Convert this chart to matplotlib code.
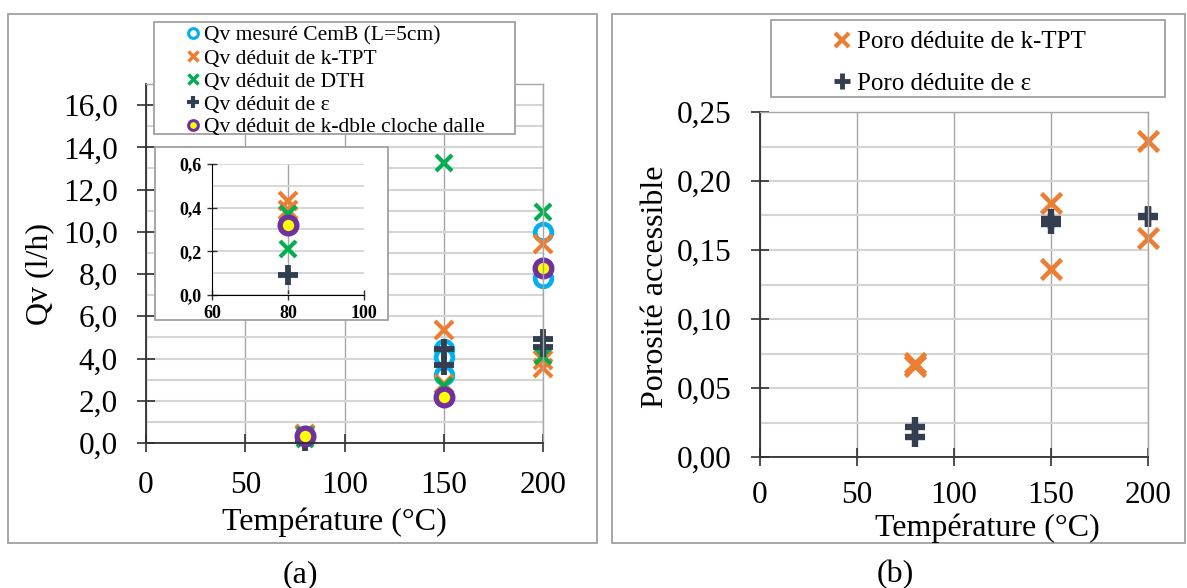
import matplotlib.pyplot as plt
from matplotlib.patches import Rectangle
from matplotlib.lines import Line2D
from matplotlib.ticker import MultipleLocator

plt.rcParams['font.family'] = ['Liberation Serif', 'DejaVu Serif']

# ---- data, panel (a) : Qv (l/h) vs temperature
temp_cemb = [80, 150, 150, 150, 200, 200]
qv_cemb = [0.32, 4.43, 4.09, 3.22, 9.99, 7.83]
temp_ktpt = [80, 80, 150, 150, 200, 200, 200]
qv_ktpt = [0.43, 0.39, 5.35, 2.78, 9.40, 3.93, 3.54]
temp_dth = [80, 80, 150, 150, 200, 200]
qv_dth = [0.37, 0.21, 13.24, 2.70, 10.93, 4.12]
temp_eps = [80, 150, 150, 200, 200]
qv_eps = [0.09, 4.43, 3.69, 4.91, 4.56]
temp_dalle = [80, 150, 200]
qv_dalle = [0.32, 2.17, 8.30]
labels_a = ["Qv mesuré CemB (L=5cm)", "Qv déduit de k-TPT", "Qv déduit de DTH",
            "Qv déduit de ε", "Qv déduit de k-dble cloche dalle"]

# ---- data, panel (b) : porosity vs temperature
temp_poro_ktpt = [80, 80, 150, 150, 200, 200]
poro_ktpt = [0.068, 0.066, 0.184, 0.136, 0.229, 0.159]
temp_poro_eps = [80, 80, 150, 150, 200, 200]
poro_eps = [0.0215, 0.0145, 0.1725, 0.1685, 0.175, 0.174]
labels_b = ["Poro déduite de k-TPT", "Poro déduite de ε"]

xticks = [0, 50, 100, 150, 200]
yticks_a = [0, 2, 4, 6, 8, 10, 12, 14, 16]
yticks_b = [0.0, 0.05, 0.10, 0.15, 0.20, 0.25]
yticks_in = [0.0, 0.2, 0.4, 0.6]

BLUE = '#00B0F0'
ORANGE = '#ED7D31'
GREEN = '#00B050'
NAVY = '#333F50'
PURPLE = '#7030A0'
YELLOW = '#FFFF00'
HGRID = '#D4D4D4'
VGRID = '#A6A6A6'

W, H = 1187, 588
fig = plt.figure(figsize=(W / 100, H / 100), dpi=100)


def fbox(x0, y0, x1, y1):
    # pixel box (top-left origin) -> figure fraction [left, bottom, width, height]
    return [x0 / W, 1 - y1 / H, (x1 - x0) / W, (y1 - y0) / H]


def add_rect(x0, y0, x1, y1, z, ec='#A0A0A0', fc='none'):
    l, b, w, h = fbox(x0, y0, x1, y1)
    r = Rectangle((l, b), w, h, transform=fig.transFigure, fc=fc, ec=ec, lw=1.3, zorder=z)
    fig.add_artist(r)


def style_axes(ax, fs=22.5, pad=14, length=13):
    ax.tick_params(which='major', direction='inout', length=length, width=1.2,
                   labelsize=fs, pad=pad, color='#303030')
    ax.tick_params(which='minor', length=0)
    for s in ['left', 'bottom']:
        ax.spines[s].set_color('#303030')
        ax.spines[s].set_linewidth(1.3)
    for s in ['top', 'right']:
        ax.spines[s].set_color(VGRID)
        ax.spines[s].set_linewidth(1.0)
    ax.set_axisbelow(True)


def draw_a(ax, k=1.0, clip=False):
    opts = dict(ls='none', clip_on=clip)
    ax.plot(temp_cemb, qv_cemb, marker='o', ms=12 * k, mfc='white',
            mec=BLUE, mew=3.4 * k, **opts)
    ax.plot(temp_ktpt, qv_ktpt, marker='x', ms=12.5 * k, mec=ORANGE, mew=3 * k, **opts)
    ax.plot(temp_dth, qv_dth, marker='x', ms=11.5 * k, mec=GREEN, mew=3 * k, **opts)
    ax.plot(temp_eps, qv_eps, marker='+', ms=14 * k, mec=NAVY, mew=4.2 * k, **opts)
    ax.plot(temp_dalle, qv_dalle, marker='o', ms=12 * k, mfc=YELLOW,
            mec=PURPLE, mew=3.8 * k, **opts)


# panel frames
add_rect(8, 14, 597, 543, -1)
add_rect(612, 14, 1185, 543, -1)

# ---------------- panel (a)
ax1 = fig.add_axes(fbox(146, 84, 543, 443))
draw_a(ax1)
ax1.set_xlim(0, 200)
ax1.set_ylim(0, 17)
ax1.set_xticks(xticks)
ax1.set_yticks(yticks_a)
ax1.set_yticklabels([f"{v:.1f}".replace('.', ',') for v in yticks_a])
ax1.yaxis.set_minor_locator(MultipleLocator(1))
ax1.grid(axis='y', which='both', color=HGRID, lw=1.5)
ax1.grid(axis='x', which='major', color=VGRID, lw=1.0)
style_axes(ax1)
ax1.set_xlabel("Température (°C)", fontsize=23)
ax1.xaxis.set_label_coords(0.474, -0.22)
ax1.xaxis.label.set_va('center')
ax1.set_ylabel("Qv (l/h)", fontsize=23)
ax1.yaxis.set_label_coords(-0.267, 0.47)
ax1.yaxis.label.set_va('center')

# inset of panel (a)
add_rect(155, 147, 388, 320, 3, fc='white')
axi = fig.add_axes(fbox(212, 164, 364, 295))
axi.set_zorder(4)
draw_a(axi, 1.0, clip=True)
axi.set_xlim(60, 100)
axi.set_ylim(0, 0.6)
axi.set_xticks([60, 80, 100])
axi.set_yticks(yticks_in)
axi.set_yticklabels([f"{v:.1f}".replace('.', ',') for v in yticks_in])
axi.yaxis.set_minor_locator(MultipleLocator(0.1))
axi.grid(axis='y', which='both', color=HGRID, lw=1.3)
axi.axvline(80, color=VGRID, lw=1.0, zorder=0)
axi.tick_params(which='major', direction='inout', length=7, width=1.0,
                labelsize=13, pad=4, color='#303030')
axi.tick_params(which='minor', length=0)
for lab in axi.get_xticklabels() + axi.get_yticklabels():
    lab.set_fontweight('bold')
axi.spines['top'].set_visible(False)
axi.spines['right'].set_visible(False)
axi.set_axisbelow(True)

# legend (a)
add_rect(154, 22, 515, 134, 5, fc='white')
handles_a = [
    Line2D([], [], ls='none', marker='o', ms=7, mfc='white', mec=BLUE, mew=2.2),
    Line2D([], [], ls='none', marker='x', ms=7, mec=ORANGE, mew=2.5),
    Line2D([], [], ls='none', marker='x', ms=7, mec=GREEN, mew=2.5),
    Line2D([], [], ls='none', marker='+', ms=8, mec=NAVY, mew=3),
    Line2D([], [], ls='none', marker='o', ms=7, mfc=YELLOW, mec=PURPLE, mew=2.2),
]
leg_a = fig.legend(handles_a, labels_a, loc='upper left', bbox_to_anchor=(173 / W, 1 - 14 / H),
                   frameon=False, fontsize=15.5, handlelength=0.8, handletextpad=0.1,
                   labelspacing=0.13, borderpad=0.05)
leg_a.set_zorder(6)

# ---------------- panel (b)
ax2 = fig.add_axes(fbox(760, 112, 1148, 457))
ax2.plot(temp_poro_ktpt, poro_ktpt, ls='none', marker='x', ms=15, mec=ORANGE, mew=3.3,
         clip_on=False)
ax2.plot(temp_poro_eps, poro_eps, ls='none', marker='+', ms=15, mec=NAVY, mew=4.6,
         clip_on=False)
ax2.set_xlim(0, 200)
ax2.set_ylim(0, 0.25)
ax2.set_xticks(xticks)
ax2.set_yticks(yticks_b)
ax2.set_yticklabels([f"{v:.2f}".replace('.', ',') for v in yticks_b])
ax2.yaxis.set_minor_locator(MultipleLocator(0.025))
ax2.grid(axis='y', which='both', color=HGRID, lw=1.5)
ax2.grid(axis='x', which='major', color=VGRID, lw=1.0)
style_axes(ax2)
ax2.tick_params(axis='x', pad=11)
ax2.set_xlabel("Température (°C)", fontsize=23)
ax2.xaxis.set_label_coords(0.585, -0.206)
ax2.xaxis.label.set_va('center')
ax2.set_ylabel("Porosité accessible", fontsize=23)
ax2.yaxis.set_label_coords(-0.27, 0.493)
ax2.yaxis.label.set_va('center')

# legend (b)
add_rect(771, 20, 1165, 97, 5, fc='white')
handles_b = [
    Line2D([], [], ls='none', marker='x', ms=10, mec=ORANGE, mew=3),
    Line2D([], [], ls='none', marker='+', ms=11, mec=NAVY, mew=3.5),
]
leg_b = fig.legend(handles_b, labels_b, loc='upper left', bbox_to_anchor=(817 / W, 1 - 17 / H),
                   frameon=False, fontsize=18, handlelength=0.9, handletextpad=0.15,
                   labelspacing=0.77, borderpad=0.05)
leg_b.set_zorder(6)

# captions
fig.text(300 / W, 1 - 575 / H, "(a)", fontsize=23, ha='center', va='center')
fig.text(895 / W, 1 - 575 / H, "(b)", fontsize=23, ha='center', va='center')

fig.savefig("out.png", dpi=100)
